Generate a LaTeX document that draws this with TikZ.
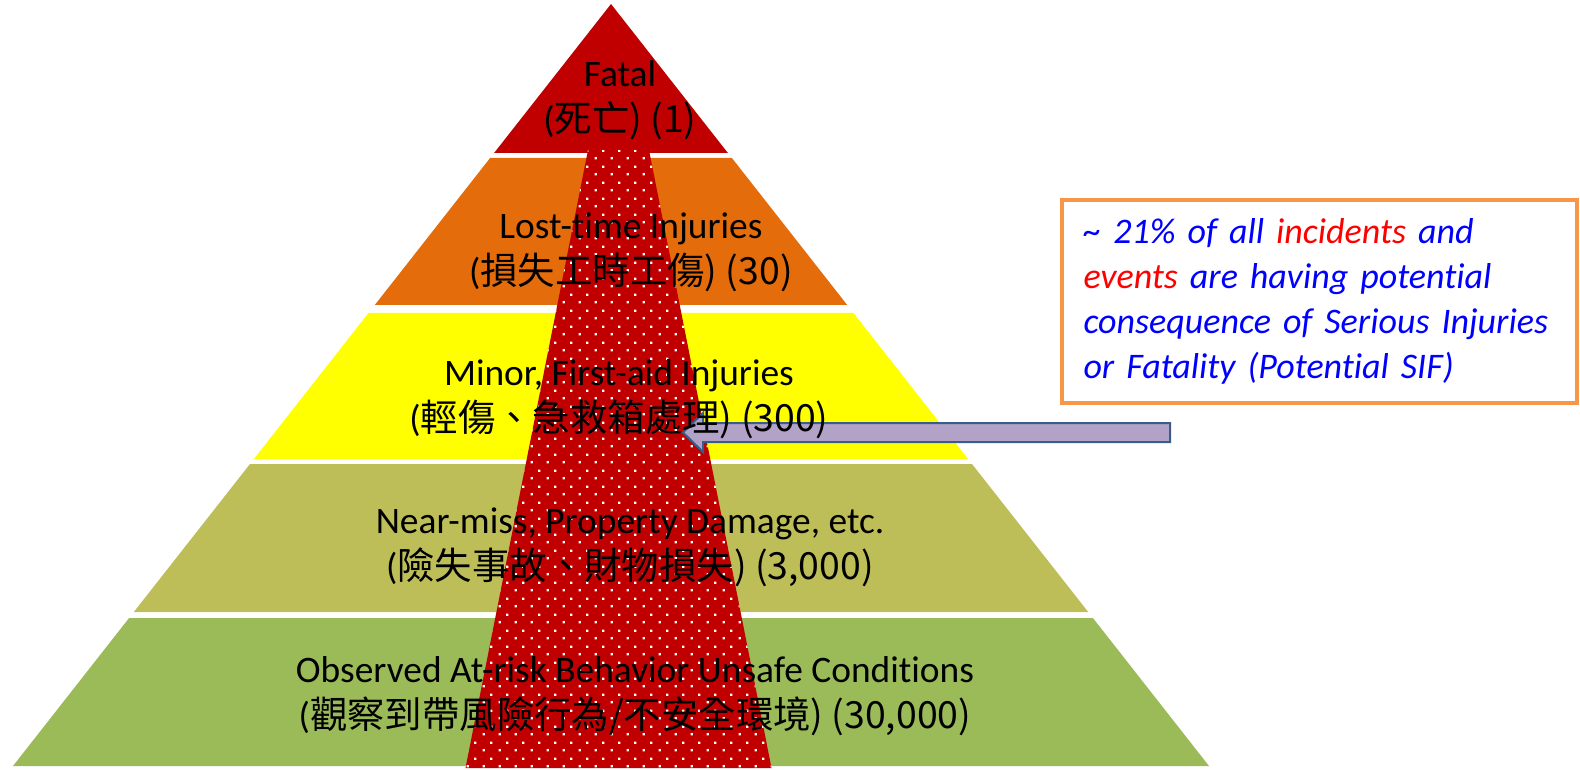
\documentclass[tikz,border=0pt]{standalone}
\usepackage{fontspec}
\setmainfont{Carlito}[Ligatures=NoCommon]
\newfontfamily\cjk{Noto Sans CJK TC}
\usetikzlibrary{patterns}

\definecolor{rossoSIF}{RGB}{192,0,0}
\definecolor{arancio}{RGB}{228,108,10}
\definecolor{giallo}{RGB}{255,255,0}
\definecolor{oliva}{RGB}{190,190,88}
\definecolor{verde}{RGB}{155,187,89}
\definecolor{lilla}{RGB}{179,162,199}
\definecolor{bordoblu}{RGB}{56,93,138}
\definecolor{cornice}{RGB}{247,150,70}
\definecolor{testoblu}{RGB}{0,0,255}
\definecolor{testorosso}{RGB}{255,0,0}

% puntini bianchi sfalsati
\pgfdeclarepatternformonly{puntini}{\pgfpointorigin}{\pgfqpoint{8pt}{8pt}}{\pgfqpoint{8pt}{8pt}}{%
  \pgfpathrectangle{\pgfqpoint{1.4pt}{1.4pt}}{\pgfqpoint{1.2pt}{1.2pt}}%
  \pgfpathrectangle{\pgfqpoint{5.4pt}{5.4pt}}{\pgfqpoint{1.2pt}{1.2pt}}%
  \pgfusepath{fill}}

\tikzset{
  livello/.style={font=\fontsize{18.7}{23}\selectfont, align=center, inner sep=0pt},
  riquadro/.style={draw=cornice, line width=2pt, minimum width=257.5pt, minimum height=101.5pt,
    text width=236pt, inner xsep=10.75pt, align=left, font=\fontsize{18}{22.5}\selectfont\itshape, text=testoblu},
  frecciaSIF/.style={fill=lilla, draw=bordoblu, line width=1pt}
}

\begin{document}
\begin{tikzpicture}[x=0.5pt, y=-0.5pt]
        \useasboundingbox (0,0) rectangle (1580,770);

        % Strati della piramide
        \fill[rossoSIF] (611,4) -- (494.1,153) -- (727.9,153) -- cycle;
        \fill[arancio] (490.1,158) -- (731.9,158) -- (847.2,305) -- (374.8,305) -- cycle;
        \fill[giallo] (368.5,313) -- (853.5,313) -- (968.1,459) -- (253.9,459) -- cycle;
        \fill[oliva] (250,464) -- (972,464) -- (1088.2,612) -- (133.8,612) -- cycle;
        \fill[verde] (129.1,618) -- (1092.9,618) -- (1209,766) -- (13,766) -- cycle;

        % Freccia rossa a puntini
        \path[preaction={fill=rossoSIF}, pattern=puntini, pattern color=white]
            (588,150) -- (649,150) -- (771.5,768) -- (465.5,768) -- cycle;

        % Freccia lilla
        \coordinate (punta) at (683,432.5);
        \filldraw[frecciaSIF] (punta) -- (703,413) -- (703,423) -- (1170,423)
            -- (1170,442) -- (703,442) -- (703,452) -- cycle;

        % Riquadro SIF
        \node[riquadro] (sif) at (1319.5,301.5) {\textasciitilde{} 21\% of all \textcolor{testorosso}{incidents} and\\
            \textcolor{testorosso}{events} are having potential\\
            consequence of Serious Injuries\\
            or Fatality (Potential SIF)};

        % Etichette
        \node[livello] (fatal) at (620,100) {Fatal\\(\cjk{死亡}) (1)};
        \node[livello] (losttime) at (631,252) {Lost-time Injuries\\(\cjk{損失工時工傷}) (30)};
        \node[livello] (minor) at (619,399) {Minor, First-aid Injuries\\(\cjk{輕傷、急救箱處理}) (300)};
        \node[livello] (nearmiss) at (630,547) {Near-miss, Property Damage, etc.\\(\cjk{險失事故、財物損失}) (3,000)};
        \node[livello] (atrisk) at (635,696) {Observed At-risk Behavior Unsafe Conditions\\(\cjk{觀察到帶風險行為/不安全環境}) (30,000)};

        \end{tikzpicture}
\end{document}
